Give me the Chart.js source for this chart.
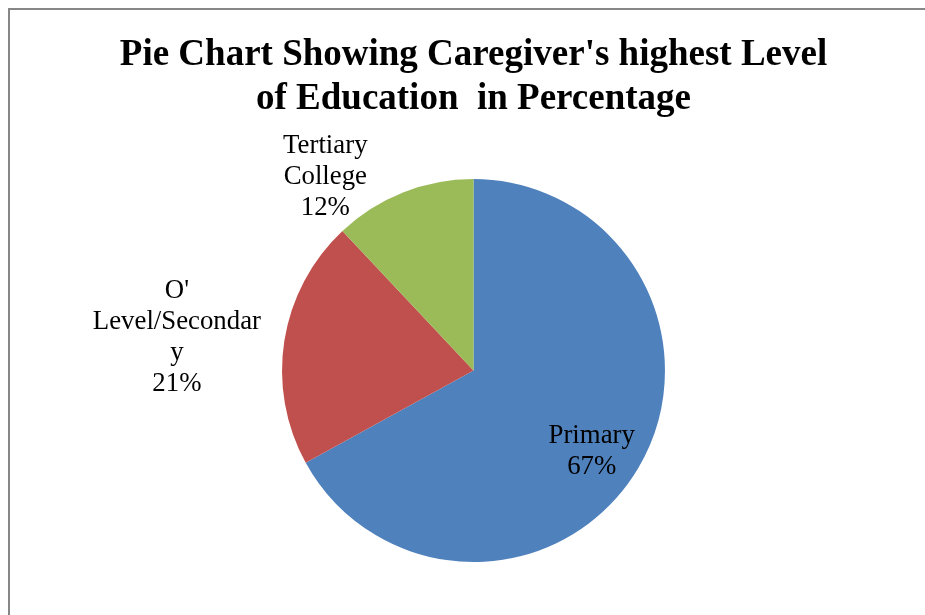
<!DOCTYPE html>
<html>
<head>
<meta charset="utf-8">
<script src="https://cdn.jsdelivr.net/npm/chart.js@4.4.1/dist/chart.umd.min.js"></script>
<style>
  html, body { margin: 0; padding: 0; background: #fff; overflow: hidden; }
  #frame {
    position: absolute; left: 8px; top: 8px;
    width: 1000px; height: 700px;
    border: 2px solid #878787;
  }
  #wrap { position: absolute; left: 11px; top: 0; width: 925px; height: 615px; }
</style>
</head>
<body>
<div id="frame"></div>
<div id="wrap"><canvas id="pieChart" width="925" height="615"></canvas></div>
<script>
// ===== data =====
const categories = ["Primary", "O' Level/Secondary", "Tertiary College"];
const percentages = [67, 21, 12];
const sliceColors = ["#4F81BD", "#C0504D", "#9BBB59"];
// label text as Excel wrapped it
const labelLines = [
  ["Primary", "67%"],
  ["O'", "Level/Secondar", "y", "21%"],
  ["Tertiary", "College", "12%"]
];

// where each label sits: angle shift from slice middle (deg), distance in radii
const labelPlacement = [
  { shift: 2.4, dist: 0.736 },
  { shift: -1.9, dist: 1.561 },
  { shift: -15.3, dist: 1.289 }
];

const sliceLabels = {
  id: "sliceLabels",
  afterDatasetsDraw(chart) {
    const ctx = chart.ctx;
    const meta = chart.getDatasetMeta(0);
    ctx.save();
    ctx.font = "26.8px 'Liberation Serif', 'Times New Roman', serif";
    ctx.fillStyle = "#000";
    ctx.textAlign = "center";
    ctx.textBaseline = "middle";
    const lh = 31;
    meta.data.forEach((arc, i) => {
      const p = arc.getProps(["x", "y", "startAngle", "endAngle", "outerRadius"], true);
      const mid = (p.startAngle + p.endAngle) / 2 + labelPlacement[i].shift * Math.PI / 180;
      const d = p.outerRadius * labelPlacement[i].dist;
      const cx = p.x + Math.cos(mid) * d;
      const cy = p.y + Math.sin(mid) * d + 4;
      const lines = labelLines[i];
      const y0 = cy - (lines.length - 1) * lh / 2;
      lines.forEach((t, k) => ctx.fillText(t, cx, y0 + k * lh));
    });
    ctx.restore();
  }
};

new Chart(document.getElementById("pieChart"), {
  type: "pie",
  data: {
    labels: categories,
    datasets: [{
      data: percentages,
      backgroundColor: sliceColors,
      borderWidth: 0
    }]
  },
  options: {
    responsive: false,
    animation: false,
    layout: { padding: { left: 0, right: 0, top: 0, bottom: 53 } },
    plugins: {
      legend: { display: false },
      tooltip: { enabled: false },
      title: {
        display: true,
        text: ["Pie Chart Showing Caregiver's highest Level", "of Education  in Percentage"],
        color: "#000",
        font: { family: "'Liberation Serif', 'Times New Roman', serif", size: 37, weight: "bold", lineHeight: 1.19 },
        padding: { top: 33, bottom: 58 }
      }
    }
  },
  plugins: [sliceLabels]
});
</script>
</body>
</html>
